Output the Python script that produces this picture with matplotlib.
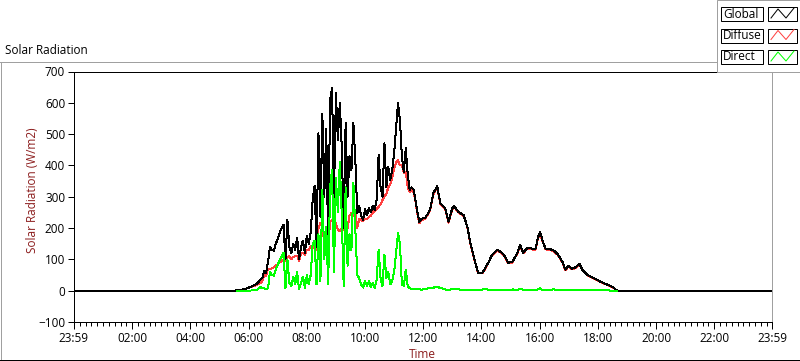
import numpy as np
import matplotlib.pyplot as plt
from matplotlib.ticker import FixedLocator
from matplotlib.patches import Rectangle
from matplotlib.lines import Line2D

plt.rcParams['font.family'] = ['Open Sans', 'DejaVu Sans']

nan = np.nan

# time of day in minutes
minutes = [0, 330, 336, 349, 359, 369, 377, 384, 388, 392, 396,
           400, 404, 408, 412, 416, 420, 424, 428, 432, 436, 440, 444, 448, 452, 456,
           460, 464, 468, 472, 476, 480, 484, 488, 492, 496, 500, 504, 508, 512, 516,
           520, 524, 528, 532, 536, 540, 544, 548, 552, 556, 560, 564, 568, 572, 576,
           580, 584, 588, 592, 596, 600, 604, 608, 612, 616, 620, 624, 628, 632, 636,
           640, 644, 648, 652, 656, 660, 664, 668, 672, 676, 680, 684, 688, 692, 696,
           700, 704, 708, 712, 716,
           724, 734, 741, 749, 755, 765, 772, 780, 784, 792, 803, 811, 817, 827, 833,
           842, 848, 854, 862, 873, 883, 889, 895, 904, 914, 920, 926, 935, 945, 951,
           957, 961, 965, 972, 982, 988, 998, 1007, 1013, 1019, 1027, 1034, 1042, 1048,
           1058, 1071, 1085, 1100, 1112, 1120, 1439]

global_rad = [0, 0, 1, 4, 9, 15, 22, 35, 40, 62, 55,
              92, 140, 130, 128, 150, 165, 185, 200, 210, 100, 226, 140, 120, 150, 130,
              170, 100, 140, 160, 120, 175, 150, 185, 290, 334, 140, 503, 236, 566, 300,
              518, 150, 608, 646, 300, 630, 480, 600, 459, 200, 535, 300, 430, 385, 535,
              417, 248, 270, 240, 225, 260, 240, 265, 250, 270, 258, 290, 433, 331, 300,
              471, 330, 395, 353, 385, 440, 520, 599, 545, 427, 380, 455, 370, 322, 330,
              322, 290, 250, 220, 230,
              232, 258, 312, 334, 280, 264, 220, 264, 270, 252, 242, 204, 153, 92, 57,
              57, 73, 89, 115, 131, 120, 108, 89, 92, 121, 146, 121, 137, 134, 132,
              172, 188, 165, 134, 132, 130, 115, 92, 67, 79, 70, 75, 86, 67,
              51, 41, 29, 19, 10, 0, 0]

diffuse_rad = [nan, nan, 1, 4, 9, 14, 19, 24, 30, 50, 48,
               70, 68, 72, 75, 80, 85, 90, 95, 100, 95, 108, 110, 100, 108, 110,
               112, 95, 118, 121, 115, 130, 131, 140, 145, 135, 131, 200, 216, 210, 150,
               140, 137, 220, 226, 225, 215, 194, 190, 200, 195, 205, 200, 240, 248, 240,
               250, 200, 230, 225, 222, 230, 228, 235, 240, 250, 255, 262, 268, 275, 290,
               300, 310, 330, 340, 360, 390, 410, 417, 400, 400, 375, 380, 330, 315, 320,
               315, 285, 245, 215, 225,
               229, 255, 308, 330, 277, 261, 217, 261, 267, 250, 239, 202, 151, 90, 55,
               55, 71, 87, 113, 129, 118, 106, 87, 90, 119, 142, 119, 135, 132, 130,
               168, 183, 162, 132, 130, 127, 113, 90, 65, 77, 68, 73, 84, 65,
               49, 40, 28, 18, 9, 0, nan]

direct_rad = [nan, nan, 0, 0, 0, 1, 3, 11, 10, 8, 5,
              8, 60, 50, 48, 68, 82, 98, 108, 121, 8, 99, 25, 15, 45, 20,
              60, 5, 25, 45, 8, 50, 20, 50, 150, 160, 20, 180, 30, 322, 100,
              204, 20, 330, 385, 60, 360, 250, 411, 240, 15, 330, 80, 180, 130, 344,
              200, 50, 40, 20, 10, 30, 15, 30, 12, 25, 8, 35, 131, 40, 15,
              115, 40, 60, 20, 30, 60, 120, 185, 150, 20, 15, 67, 15, 8, 5,
              5, 5, 5, 5, 3,
              6, 8, 10, 12, 9, 4, 2, 6, 5, 4, 3, 2, 2, 3, 2,
              4, 5, 3, 2, 3, 2, 3, 2, 4, 3, 6, 3, 2, 3, 2,
              4, 8, 3, 2, 3, 4, 3, 2, 3, 2, 2, 3, 2, 2,
              2, 1, 1, 1, 0, 0, nan]

tick_pos = [-1, 120, 240, 360, 480, 600, 720, 840, 960, 1080, 1200, 1320, 1439]
tick_labels = ['23:59', '02:00', '04:00', '06:00', '08:00', '10:00', '12:00',
               '14:00', '16:00', '18:00', '20:00', '22:00', '23:59']

W, H = 800, 361
fig = plt.figure(figsize=(W / 100, H / 100), dpi=100)


def fx(x):
    return x / W


def fy(y):
    return 1 - y / H


px = 0.72  # one pixel line width

ax = fig.add_axes([fx(73.5), fy(322), fx(772) - fx(73.5), fy(71.5) - fy(322)])

ax.plot(minutes, diffuse_rad, color='#ff4040', lw=px, antialiased=False, zorder=2)
ax.plot(minutes, global_rad, color='black', lw=px, antialiased=False, zorder=3)
ax.plot(minutes, direct_rad, color='#00ff00', lw=px, antialiased=False, zorder=4)

ax.set_xlim(-1, 1439)
ax.set_ylim(-100, 700)
ax.set_xticks(tick_pos)
ax.set_xticklabels(tick_labels)
ax.xaxis.set_minor_locator(FixedLocator(np.arange(12, 1430, 12)))
ax.set_yticks(range(-100, 701, 100))
ax.tick_params(which='major', direction='out', length=5, width=px, labelsize=8.5, pad=2)
ax.tick_params(which='minor', direction='out', length=3, width=px)
ax.tick_params(axis='y', length=4)

for s in ['top', 'left', 'bottom']:
    ax.spines[s].set_color('black')
ax.spines['right'].set_color('#a0a0a0')
for s in ax.spines.values():
    s.set_linewidth(px)

label_col = '#8b1c1c'
fig.text(fx(5), fy(50), 'Solar Radiation', fontsize=8.5, va='center', ha='left')
fig.text(fx(33), fy(190), 'Solar Radiation (W/m2)', fontsize=8.5, rotation=90,
         va='center', ha='center', color=label_col)
fig.text(fx(422), fy(354), 'Time', fontsize=8.5, va='center', ha='center', color=label_col)

# outer panel frame
fig.add_artist(Line2D([fx(0), fx(717)], [fy(61.5), fy(61.5)], color='#a0a0a0', lw=px))
fig.add_artist(Line2D([fx(0.5), fx(0.5)], [fy(61.5), fy(359.5)], color='#a0a0a0', lw=px))
fig.add_artist(Line2D([fx(0), fx(799)], [fy(359.5), fy(359.5)], color='black', lw=px))

# legend
fig.add_artist(Rectangle((fx(717), fy(72)), fx(800) - fx(717), fy(0) - fy(72),
                         transform=fig.transFigure, facecolor='white', edgecolor='#a0a0a0', lw=px))
names = ['Global', 'Diffuse', 'Direct']
cols = ['black', '#ff4040', '#00ff00']
for i, (nm, c) in enumerate(zip(names, cols)):
    y0 = 7 + i * 21.5
    fig.add_artist(Rectangle((fx(721), fy(y0 + 14)), fx(763) - fx(721), fy(y0) - fy(y0 + 14),
                             transform=fig.transFigure, facecolor='white', edgecolor='black', lw=px))
    fig.text(fx(723), fy(y0 + 7), nm, fontsize=8.5, va='center', ha='left')
    fig.add_artist(Rectangle((fx(768), fy(y0 + 14)), fx(797) - fx(768), fy(y0) - fy(y0 + 14),
                             transform=fig.transFigure, facecolor='white', edgecolor='black', lw=px))
    fig.add_artist(Line2D([fx(771), fx(778), fx(786), fx(794)],
                          [fy(y0 + 11), fy(y0 + 2), fy(y0 + 11), fy(y0 + 1)], color=c, lw=px))

fig.savefig('out.png', dpi=100)
